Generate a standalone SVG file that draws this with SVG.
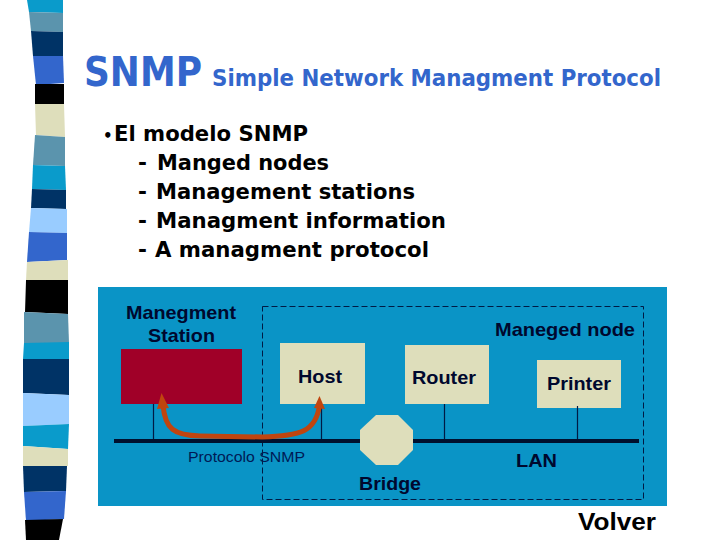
<svg xmlns="http://www.w3.org/2000/svg" width="720" height="540" viewBox="0 0 720 540">
<style>
.t{font-family:"Liberation Sans",Arial,sans-serif;font-weight:bold;fill:#00082e;font-size:19px}
.b{font-family:"DejaVu Sans",sans-serif;font-weight:bold;font-size:21.5px;fill:#000000}
.s{font-family:"DejaVu Sans",sans-serif;font-weight:bold;font-size:22.5px;fill:#3366cc}
.n{fill:#dedebb}
.c{stroke:#001a44;stroke-width:1.2;fill:none}
</style>
<rect width="720" height="540" fill="#ffffff"/>
<g id="strip">
<polygon points="27,0 63,0 63,13 29,12" fill="#0a9bcb"/>
<polygon points="29,12 63,13 63,32 31,31" fill="#5b94ad"/>
<polygon points="31,31 63,32 63,56 33,56" fill="#003366"/>
<polygon points="33,56 63,56 64,83 36,85" fill="#3366cc"/>
<polygon points="35,84 64,84 64,104 35,104" fill="#000000"/>
<polygon points="35,104 64,104 65,137 36,135" fill="#dedebb"/>
<polygon points="35,135 65,137 65,166 33,165" fill="#5b94ad"/>
<polygon points="33,165 65,166 66,190 32,189" fill="#0a9bcb"/>
<polygon points="32,189 66,190 66,209 31,208" fill="#003366"/>
<polygon points="31,208 67,209 67,233 29,232" fill="#99ccff"/>
<polygon points="29,232 67,233 67,260 27,262" fill="#3366cc"/>
<polygon points="27,262 68,260 68,280 26,280" fill="#dedebb"/>
<polygon points="26,280 68,280 68,314 25,312" fill="#000000"/>
<polygon points="24,312 68,314 69,343 24,343" fill="#5b94ad"/>
<polygon points="24,343 69,342 69,359 23,359" fill="#0a9bcb"/>
<polygon points="23,359 69,359 69,395 23,393" fill="#003366"/>
<polygon points="23,393 69,395 69,424 23,426" fill="#99ccff"/>
<polygon points="23,426 69,424 68,449 23,446" fill="#0a9bcb"/>
<polygon points="23,446 68,449 68,466 23,467" fill="#dedebb"/>
<polygon points="23,466 67,466 66,491 24,492" fill="#003366"/>
<polygon points="24,492 66,491 64,519 26,521" fill="#3366cc"/>
<polygon points="25,520 63,519 59,540 26,540" fill="#000000"/>
</g>
<g id="title">
<text x="84" y="85.500" font-family="'DejaVu Sans',sans-serif" font-weight="bold" font-size="41" fill="#3366cc" textLength="118" lengthAdjust="spacingAndGlyphs">SNMP</text>
<text x="212" y="85.500" class="s" textLength="449" lengthAdjust="spacingAndGlyphs">Simple Network Managment Protocol</text>
</g>
<g id="bullets">
<text class="b" y="141"><tspan x="103" font-size="15">•</tspan><tspan x="114" textLength="194" lengthAdjust="spacingAndGlyphs">El modelo SNMP</tspan></text>
<text class="b" y="170"><tspan x="138">-</tspan><tspan x="157" textLength="172" lengthAdjust="spacingAndGlyphs">Manged nodes</tspan></text>
<text class="b" y="198.500"><tspan x="138">-</tspan><tspan x="156" textLength="259" lengthAdjust="spacingAndGlyphs">Management stations</tspan></text>
<text class="b" y="228"><tspan x="138">-</tspan><tspan x="156" textLength="290" lengthAdjust="spacingAndGlyphs">Managment information</tspan></text>
<text class="b" y="256.500"><tspan x="138">-</tspan><tspan x="155" textLength="274" lengthAdjust="spacingAndGlyphs">A managment protocol</tspan></text>
</g>
<rect id="panel" x="98" y="287" width="569" height="219" fill="#0a94c6"/>
<g id="managed-node"><rect x="262.500" y="306.500" width="381" height="193" fill="none" stroke="#001a44" stroke-width="1" stroke-dasharray="6 3"/>
<text x="495" y="336" class="t" textLength="140" lengthAdjust="spacingAndGlyphs">Maneged node</text></g>
<g id="station"><rect x="121" y="349" width="121" height="55" fill="#a00028"/>
<text x="126" y="319" class="t" textLength="110" lengthAdjust="spacingAndGlyphs">Manegment</text>
<text x="148" y="342" class="t" textLength="67" lengthAdjust="spacingAndGlyphs">Station</text></g>
<g id="host"><rect class="n" x="280" y="343" width="85" height="61"/><text x="298" y="383" class="t" textLength="44" lengthAdjust="spacingAndGlyphs">Host</text></g>
<g id="router"><rect class="n" x="405" y="345" width="84" height="59"/><text x="412" y="384" class="t" textLength="64" lengthAdjust="spacingAndGlyphs">Router</text></g>
<g id="printer"><rect class="n" x="537" y="360" width="84" height="48"/><text x="547" y="390" class="t" textLength="64" lengthAdjust="spacingAndGlyphs">Printer</text></g>
<g id="bridge"><polygon class="n" points="376,415 398,415 413,430 413,450 398,465 376,465 360,450 360,430"/>
<text x="359" y="490" class="t" textLength="62" lengthAdjust="spacingAndGlyphs">Bridge</text></g>
<g id="connectors">
<path class="c" d="M153.500 404V441M321.500 404V441M444.500 404V441M577.500 406V441"/>
<line x1="114" y1="441" x2="360" y2="441" stroke="#00102e" stroke-width="4"/>
<line x1="413" y1="441" x2="639" y2="441" stroke="#00102e" stroke-width="4"/>
<path d="M163 405C165 429 174 435.500 200 436L262 437C300 436 316 432 319.500 405" fill="none" stroke="#c0450f" stroke-width="5"/>
<polygon points="161.500,393 169,408 157,409" fill="#c0450f"/>
<polygon points="319.500,396 325,409 314,408" fill="#c0450f"/>
</g>
<text x="188" y="462" font-family="'Liberation Sans',Arial,sans-serif" font-size="15.500" fill="#001a55" textLength="117" lengthAdjust="spacingAndGlyphs">Protocolo SNMP</text>
<text x="516" y="467" class="t" textLength="41" lengthAdjust="spacingAndGlyphs">LAN</text>
<text x="578" y="530" class="t" style="font-size:24px;fill:#000" textLength="78" lengthAdjust="spacingAndGlyphs">Volver</text>
</svg>
